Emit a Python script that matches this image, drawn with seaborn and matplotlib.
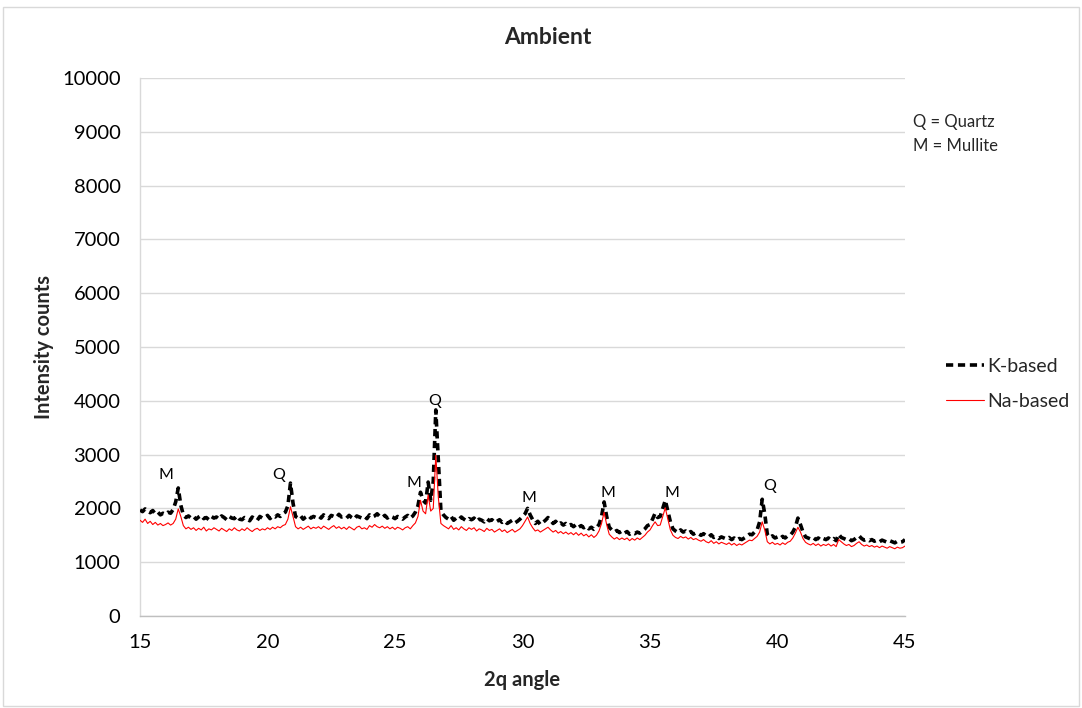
import numpy as np
import pandas as pd
import matplotlib
matplotlib.use("Agg")
import matplotlib.pyplot as plt
from matplotlib.lines import Line2D
from matplotlib.patches import Rectangle
import seaborn as sns

# 2-theta scan from 15 to 45 degrees, 0.1 degree step
two_theta = np.round(np.arange(15.0, 45.0001, 0.1), 1)

k_based = [
    1970, 1940, 1990, 1950, 1920, 1960, 1900, 1930, 1880, 1910,
    1890, 1930, 1910, 1980, 2120, 2380, 2060, 1880, 1830, 1860,
    1820, 1850, 1800, 1840, 1870, 1810, 1830, 1790, 1850, 1820,
    1840, 1800, 1860, 1830, 1790, 1850, 1820, 1810, 1860, 1800,
    1790, 1830, 1810, 1770, 1840, 1800, 1780, 1850, 1820, 1830,
    1870, 1810, 1860, 1840, 1880, 1850, 1900, 1930, 2050, 2470,
    2100, 1850, 1820, 1860, 1800, 1840, 1870, 1820, 1850, 1830,
    1860, 1820, 1880, 1840, 1810, 1870, 1850, 1830, 1890, 1840,
    1850, 1820, 1870, 1830, 1800, 1860, 1840, 1820, 1850, 1810,
    1880, 1840, 1860, 1900, 1850, 1830, 1870, 1820, 1860, 1840,
    1810, 1850, 1830, 1800, 1840, 1870, 1820, 1860, 1930, 2050,
    2300, 2150, 2100, 2490, 2150, 2500, 3830, 2900, 1950, 1880,
    1830, 1800, 1850, 1780, 1820, 1790, 1840, 1800, 1770, 1810,
    1790, 1820, 1760, 1800, 1780, 1750, 1810, 1770, 1790, 1740,
    1760, 1790, 1740, 1770, 1720, 1750, 1780, 1730, 1760, 1800,
    1850, 1900, 2000, 1880, 1790, 1720, 1760, 1700, 1740, 1780,
    1830, 1780, 1720, 1760, 1700, 1730, 1690, 1720, 1680, 1700,
    1660, 1700, 1650, 1680, 1640, 1670, 1620, 1650, 1610, 1640,
    1700, 1850, 2120, 1850, 1650, 1600, 1560, 1590, 1550, 1580,
    1540, 1570, 1520, 1550, 1530, 1560, 1540, 1580, 1620, 1680,
    1700, 1800, 1910, 1830, 1850, 2000, 2150, 1950, 1750, 1620,
    1580, 1550, 1600, 1560, 1580, 1540, 1570, 1520, 1550, 1530,
    1500, 1530, 1490, 1470, 1510, 1460, 1480, 1440, 1470, 1450,
    1430, 1460, 1420, 1450, 1410, 1440, 1420, 1450, 1480, 1520,
    1510, 1560, 1600, 1750, 2170, 1900, 1520, 1460, 1490, 1450,
    1470, 1440, 1480, 1450, 1490, 1500, 1560, 1650, 1820, 1700,
    1560, 1470, 1450, 1430, 1460, 1420, 1450, 1410, 1440, 1420,
    1450, 1410, 1440, 1400, 1520, 1460, 1440, 1420, 1440, 1400,
    1420, 1460, 1490, 1440, 1410, 1430, 1400, 1420, 1390, 1410,
    1380, 1410, 1390, 1370, 1400, 1380, 1360, 1390, 1370, 1380,
    1420,
]

na_based = [
    1780, 1740, 1800, 1720, 1760, 1700, 1740, 1690, 1720, 1680,
    1700, 1730, 1690, 1720, 1800, 1990, 1850, 1680, 1620, 1650,
    1610, 1640, 1590, 1630, 1600, 1650, 1580, 1620, 1600, 1640,
    1610, 1580, 1630, 1600, 1570, 1620, 1590, 1640, 1600, 1580,
    1620, 1590, 1640, 1600, 1570, 1610, 1630, 1590, 1620, 1600,
    1640, 1610, 1650, 1620, 1660, 1640, 1680, 1700, 1800, 2030,
    1850, 1660, 1620, 1650, 1610, 1640, 1670, 1620, 1650, 1630,
    1660, 1620, 1670, 1640, 1610, 1650, 1680, 1630, 1660, 1620,
    1650, 1610, 1660, 1630, 1600, 1650, 1670, 1620, 1640, 1610,
    1680, 1650, 1700, 1660, 1640, 1670, 1630, 1660, 1620, 1650,
    1610, 1650, 1630, 1600, 1640, 1660, 1620, 1680, 1730, 1850,
    2150, 1950, 1900, 2250, 1950, 2000, 2990, 2200, 1720, 1680,
    1650, 1620, 1680, 1610, 1640, 1600, 1660, 1620, 1590, 1640,
    1610, 1640, 1580, 1620, 1600, 1570, 1630, 1590, 1610, 1560,
    1590, 1620, 1570, 1600, 1550, 1580, 1610, 1560, 1590, 1620,
    1680, 1760, 1840, 1720, 1640, 1580, 1600, 1560, 1590, 1620,
    1650, 1600, 1560, 1590, 1540, 1570, 1530, 1560, 1520, 1550,
    1510, 1550, 1500, 1540, 1490, 1520, 1470, 1510, 1460, 1500,
    1580, 1720, 1930, 1700, 1520, 1470, 1430, 1460, 1420, 1450,
    1420, 1450, 1400, 1440, 1410, 1450, 1420, 1460, 1500, 1560,
    1600, 1680, 1750, 1680, 1690, 1850, 2010, 1800, 1600, 1500,
    1460, 1440, 1480, 1450, 1470, 1430, 1460, 1420, 1440, 1410,
    1390, 1420, 1380, 1360, 1400, 1350, 1380, 1340, 1370, 1350,
    1330, 1360, 1320, 1350, 1310, 1340, 1320, 1350, 1380, 1410,
    1400, 1440, 1480, 1560, 1750, 1600, 1380, 1340, 1370, 1330,
    1350, 1320, 1360, 1330, 1370, 1390, 1450, 1540, 1650, 1560,
    1440, 1370, 1340, 1320, 1350, 1310, 1340, 1300, 1330, 1310,
    1340, 1300, 1330, 1290, 1420, 1380, 1340, 1310, 1330, 1290,
    1310, 1350, 1380, 1330, 1300, 1320, 1290, 1310, 1280, 1300,
    1270, 1300, 1280, 1260, 1290, 1270, 1250, 1280, 1260, 1270,
    1300,
]

# Phase labels placed above the peaks
peak_labels = ["M", "Q", "M", "Q", "M", "M", "M", "Q"]
peak_x = [16.0, 20.45, 25.75, 26.55, 30.25, 33.35, 35.85, 39.7]
peak_y = [2620, 2620, 2470, 4000, 2190, 2290, 2290, 2420]

x_ticks = [15, 20, 25, 30, 35, 40, 45]
y_ticks = list(range(0, 10001, 1000))

sns.set_theme(style="white")
plt.rcParams["font.family"] = ["Lato", "DejaVu Sans"]

fig = plt.figure(figsize=(10.82, 7.08), dpi=100)
ax = fig.add_axes([140 / 1082, 1 - 616 / 708, (905 - 140) / 1082, (616 - 78) / 708])

df = pd.DataFrame({"two_theta": two_theta, "K-based": k_based, "Na-based": na_based})

sns.lineplot(data=df, x="two_theta", y="K-based", ax=ax, color="black",
             linewidth=2.6, linestyle=(0, (2.0, 1.3)), zorder=3)
sns.lineplot(data=df, x="two_theta", y="Na-based", ax=ax, color="#ff0000",
             linewidth=0.8, zorder=4)

ax.set_xlim(15, 45)
ax.set_ylim(0, 10000)
ax.set_xticks(x_ticks)
ax.set_yticks(y_ticks)
ax.tick_params(axis="both", length=0, labelsize=14.5, colors="black")
ax.tick_params(axis="y", pad=14)
ax.tick_params(axis="x", pad=13)
ax.yaxis.grid(True, color="#d9d9d9", linewidth=1)
ax.xaxis.grid(False)
for side in ["top", "right"]:
    ax.spines[side].set_visible(False)
ax.spines["left"].set_color("#d9d9d9")
ax.spines["bottom"].set_color("#bfbfbf")
ax.spines["left"].set_linewidth(1)
ax.spines["bottom"].set_linewidth(1)

ax.set_xlabel("2q angle", fontsize=14.5, fontweight="bold", labelpad=14)
ax.set_ylabel("Intensity counts", fontsize=14.5, fontweight="bold", labelpad=6)

for lab, px, py in zip(peak_labels, peak_x, peak_y):
    ax.text(px, py, lab, fontsize=11.5, ha="center", va="center", color="black")

fig.text(548 / 1082, 1 - 38 / 708, "Ambient", fontsize=16.5, fontweight="bold",
         ha="center", va="center")

fig.text(913 / 1082, 1 - 122 / 708, "Q = Quartz", fontsize=12, va="center")
fig.text(913 / 1082, 1 - 146 / 708, "M = Mullite", fontsize=12, va="center")

handles = [
    Line2D([0], [0], color="black", linewidth=2.6, linestyle=(0, (2.0, 1.3))),
    Line2D([0], [0], color="#ff0000", linewidth=0.8),
]
fig.legend(handles, ["K-based", "Na-based"], loc="center left",
           bbox_to_anchor=(928 / 1082, 1 - 384 / 708), frameon=False,
           fontsize=14, handlelength=2.0, handletextpad=0.15, labelspacing=0.95)

fig.patches.append(Rectangle((3 / 1082, 2 / 708), 1076 / 1082, 699 / 708,
                             transform=fig.transFigure, fill=False,
                             edgecolor="#d9d9d9", linewidth=1))

fig.savefig("out.png", dpi=100)
